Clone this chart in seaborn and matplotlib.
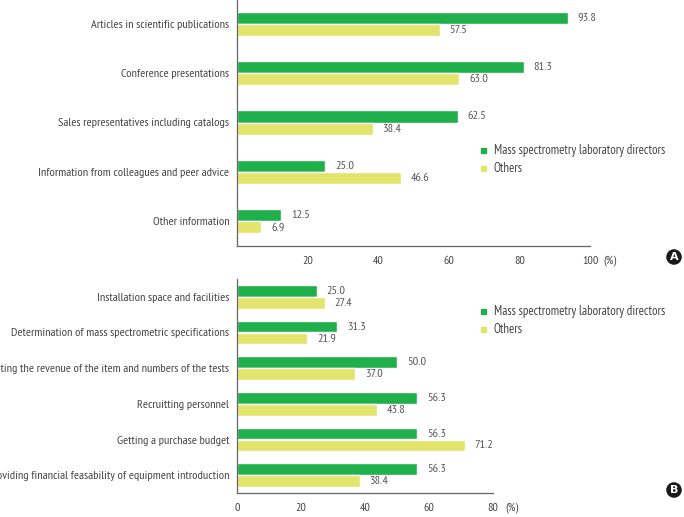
import pandas as pd
import numpy as np
import matplotlib
matplotlib.use('Agg')
import matplotlib.pyplot as plt
from matplotlib import font_manager as fm
from matplotlib.lines import Line2D
from matplotlib.ticker import FixedLocator
import seaborn as sns

# data
groups = ['Mass spectrometry laboratory directors', 'Others']

cats_a = ['Articles in scientific publications', 'Conference presentations',
          'Sales representatives including catalogs',
          'Information from colleagues and peer advice', 'Other information']
directors_a = [93.8, 81.3, 62.5, 25.0, 12.5]
others_a = [57.5, 63.0, 38.4, 46.6, 6.9]

cats_b = ['Installation space and facilities',
          'Determination of mass spectrometric specifications',
          'Estimating the revenue of the item and numbers of the tests',
          'Recruitting personnel', 'Getting a purchase budget',
          'Providing financial feasability of equipment introduction']
directors_b = [25.0, 31.3, 50.0, 56.3, 56.3, 56.3]
others_b = [27.4, 21.9, 37.0, 43.8, 71.2, 38.4]

green = '#1fb04b'
yellow = '#e3e46b'
txt = '#444444'

sns.set_style('white')
plt.rcParams['font.family'] = ['DejaVu Sans']

# condensed face, like the journal's figure font
fp = fm.FontProperties(family='DejaVu Sans')
for want in ['PT_Sans-Narrow-Web-Regular', 'FiraSansCondensed-Regular',
             'DejaVuSansCondensed.ttf']:
    hits = [f.fname for f in fm.fontManager.ttflist if want in f.fname]
    if hits:
        fp = fm.FontProperties(fname=hits[0])
        break


def sized(size):
    p = fp.copy()
    p.set_size(size)
    return p


def long_df(cats, d, o):
    return pd.DataFrame({'cat': cats * 2,
                         'val': d + o,
                         'group': [groups[0]] * len(cats) + [groups[1]] * len(cats)})


fig = plt.figure(figsize=(6.84, 5.17), dpi=100)
ax_a = fig.add_axes([237 / 684, 1 - 246 / 517, 353 / 684, 247 / 517])
ax_b = fig.add_axes([237 / 684, 1 - 493 / 517, 256 / 684, 214 / 517])


def draw(ax, cats, d, o, width, xmax, xticks):
    df = long_df(cats, d, o)
    sns.barplot(data=df, y='cat', x='val', hue='group', orient='h',
                palette=[green, yellow], width=width, gap=0,
                saturation=1, legend=False, ax=ax)
    for c in ax.containers:
        ax.bar_label(c, fmt='%.1f', padding=7, color='#555555',
                     fontproperties=sized(8.8))
    ax.set_xlim(0, xmax)
    ax.set_ylim(len(cats) - 0.5, -0.5)
    ax.set_xticks(xticks)
    ax.set_xlabel('')
    ax.set_ylabel('')
    ax.tick_params(axis='y', length=0, labelcolor=txt, pad=5.5)
    ax.tick_params(axis='x', direction='in', length=4, color='#666666',
                   labelcolor=txt, pad=7.5)
    for lab in ax.get_yticklabels():
        lab.set_fontproperties(sized(8.8))
    for lab in ax.get_xticklabels():
        lab.set_fontproperties(sized(8.6))
    ax.yaxis.set_minor_locator(FixedLocator(np.arange(0.5, len(cats) - 1, 1)))
    ax.tick_params(axis='y', which='minor', direction='in', length=4, color='#666666')
    for s in ['top', 'right']:
        ax.spines[s].set_visible(False)
    for s in ['left', 'bottom']:
        ax.spines[s].set_color('#666666')
        ax.spines[s].set_linewidth(0.9)


draw(ax_a, cats_a, directors_a, others_a, 0.49, 100, [20, 40, 60, 80, 100])
draw(ax_b, cats_b, directors_b, others_b, 0.67, 80, [0, 20, 40, 60, 80])

fig.text(603 / 684, 1 - 261 / 517, '(%)', color=txt, va='center',
         fontproperties=sized(8.5))
fig.text(505 / 684, 1 - 508 / 517, '(%)', color=txt, va='center',
         fontproperties=sized(8.5))

handles = [Line2D([], [], marker='s', ls='none', color=green, markersize=3.6),
           Line2D([], [], marker='s', ls='none', color=yellow, markersize=3.6)]
for y in [144, 305]:
    fig.legend(handles, groups, loc='upper left',
               bbox_to_anchor=(479 / 684, 1 - y / 517), frameon=False,
               handlelength=0.6, handletextpad=0.55, labelspacing=0.4,
               prop=sized(9.2), labelcolor=txt, borderaxespad=0, borderpad=0)

for letter, y in [('A', 257), ('B', 490)]:
    fig.text(674 / 684, 1 - y / 517, letter, color='white', fontsize=8,
             fontweight='bold', ha='center', va='center', family='DejaVu Sans',
             bbox=dict(boxstyle='circle,pad=0.25', fc='#1a1a1a', ec='none'))

fig.savefig('out.png', dpi=100)
